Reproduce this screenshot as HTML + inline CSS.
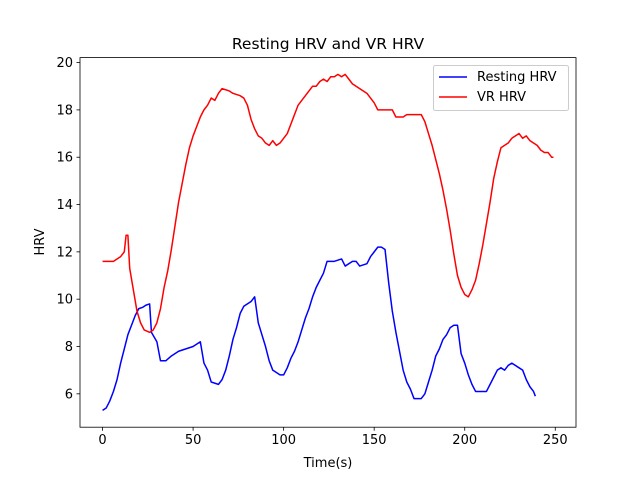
<!DOCTYPE html>
<html><head><meta charset="utf-8"><style>
body{margin:0;background:#fff}
svg text{font-family:"DejaVu Sans","Liberation Sans",sans-serif;fill:#000}
</style></head><body>
<svg id="chart" width="640" height="480" xmlns="http://www.w3.org/2000/svg"></svg>
<script>
const restT=[0,2,4,6,8,10,12,14,16,18,20,22,24,26,27,30,32,35,38,42,46,50,52,54,56,58,60,64,66,68,70,72,74,76,78,82,84,86,88,90,92,94,98,100,102,104,106,108,110,112,114,116,118,120,122,124,128,132,134,138,140,142,146,148,150,152,154,156,158,160,162,164,166,168,170,172,176,178,180,182,184,186,188,190,192,194,196,198,200,202,204,206,212,214,216,218,220,222,224,226,230,232,234,236,238,239];
const restV=[5.3,5.4,5.7,6.1,6.6,7.3,7.9,8.5,8.9,9.3,9.6,9.65,9.75,9.8,8.6,8.2,7.4,7.4,7.6,7.8,7.9,8.0,8.1,8.2,7.3,7.0,6.5,6.4,6.6,7.0,7.6,8.3,8.8,9.4,9.7,9.9,10.1,9.0,8.5,8.0,7.4,7.0,6.8,6.8,7.1,7.5,7.8,8.2,8.7,9.2,9.6,10.1,10.5,10.8,11.1,11.6,11.6,11.7,11.4,11.6,11.6,11.4,11.5,11.8,12.0,12.2,12.2,12.1,10.7,9.5,8.6,7.8,7.0,6.5,6.2,5.8,5.8,6.0,6.5,7.0,7.6,7.9,8.3,8.5,8.8,8.9,8.9,7.7,7.3,6.8,6.4,6.1,6.1,6.4,6.7,7.0,7.1,7.0,7.2,7.3,7.1,7.0,6.6,6.3,6.1,5.9];
const vrT=[0,6,8,10,12,13,14,15,17,19,21,23,26,28,30,32,34,36,38,40,42,44,46,48,50,52,54,56,58,60,62,64,66,70,72,76,78,80,82,84,86,88,90,92,94,96,98,100,102,104,106,108,110,112,114,116,118,120,122,124,126,128,130,132,134,136,138,142,146,148,150,152,160,162,166,168,176,178,180,182,184,186,188,190,192,194,196,198,200,202,204,206,208,210,212,214,216,218,220,224,226,230,232,234,236,238,240,242,244,246,248,249];
const vrV=[11.6,11.6,11.7,11.8,12.0,12.7,12.7,11.3,10.4,9.5,9.0,8.7,8.6,8.7,9.0,9.6,10.5,11.2,12.1,13.1,14.1,14.9,15.7,16.4,16.9,17.3,17.7,18.0,18.2,18.5,18.4,18.7,18.9,18.8,18.7,18.6,18.5,18.2,17.6,17.2,16.9,16.8,16.6,16.5,16.7,16.5,16.6,16.8,17.0,17.4,17.8,18.2,18.4,18.6,18.8,19.0,19.0,19.2,19.3,19.2,19.4,19.4,19.5,19.4,19.5,19.3,19.1,18.9,18.7,18.5,18.3,18.0,18.0,17.7,17.7,17.8,17.8,17.5,17.0,16.5,15.9,15.3,14.6,13.8,12.9,11.9,11.0,10.5,10.2,10.1,10.4,10.8,11.5,12.3,13.2,14.1,15.1,15.8,16.4,16.6,16.8,17.0,16.8,16.9,16.7,16.6,16.5,16.3,16.2,16.2,16.0,16.0];
const xTicks=[0,50,100,150,200,250];
const yTicks=[6,8,10,12,14,16,18,20];

const L=80,R=576,T=57.6,B=427.2;
const xMin=-12.45,xMax=261.45,yMin=4.59,yMax=20.21;
const X=v=>L+(v-xMin)/(xMax-xMin)*(R-L);
const Y=v=>B-(v-yMin)/(yMax-yMin)*(B-T);
const svg=document.getElementById('chart');
const NS='http://www.w3.org/2000/svg';
function mk(tag,attrs,parent){const e=document.createElementNS(NS,tag);for(const k in attrs)e.setAttribute(k,attrs[k]);(parent||svg).appendChild(e);return e;}

function line(ts,vs,color,name){
  const p=mk('polyline',{points:ts.map((t,i)=>X(t).toFixed(2)+','+Y(vs[i]).toFixed(2)).join(' '),fill:'none',stroke:color,'stroke-width':1.5,'stroke-linejoin':'round'});
  
  
}
line(restT,restV,'#0000ff','resting-hrv-line');
line(vrT,vrV,'#ff0000','vr-hrv-line');

const frame=mk('rect',{x:L,y:T,width:R-L,height:B-T,fill:'none',stroke:'#000','stroke-width':0.8});



xTicks.forEach(v=>{
  const tk=mk('line',{x1:X(v),x2:X(v),y1:B,y2:B+3.5,stroke:'#000','stroke-width':0.8});
  
  
  const t=mk('text',{x:X(v),y:B+17,'text-anchor':'middle','font-size':'13px'});
  t.textContent=v;
  
  
});
yTicks.forEach(v=>{
  const tk=mk('line',{x1:L-3.5,x2:L,y1:Y(v),y2:Y(v),stroke:'#000','stroke-width':0.8});
  
  
  const t=mk('text',{x:L-7,y:Y(v)+4.5,'text-anchor':'end','font-size':'13px'});
  t.textContent=v;
  
  
});
const title=mk('text',{x:328,y:49,'text-anchor':'middle','font-size':'15.5px'});
title.textContent='Resting HRV and VR HRV';


const xl=mk('text',{x:328,y:467,'text-anchor':'middle','font-size':'13px'});
xl.textContent='Time(s)';


const yl=mk('text',{x:44,y:242,'text-anchor':'middle','font-size':'13px',transform:'rotate(-90 44 242)'});
yl.textContent='HRV';



const lg=mk('g',{});


mk('rect',{x:433.5,y:65.5,width:135,height:45,rx:2,fill:'#fff','fill-opacity':0.8,stroke:'#ccc','stroke-width':1},lg);
[['Resting HRV','#0000ff',81],['VR HRV','#ff0000',101]].forEach(([n,c,y])=>{
  const g=mk('g',{},lg);
  
  
  mk('line',{x1:439,x2:467,y1:y-4,y2:y-4,stroke:c,'stroke-width':1.5},g);
  const t=mk('text',{x:477,y:y,'font-size':'13px'},g);
  t.textContent=n;
});
</script>
</body></html>
